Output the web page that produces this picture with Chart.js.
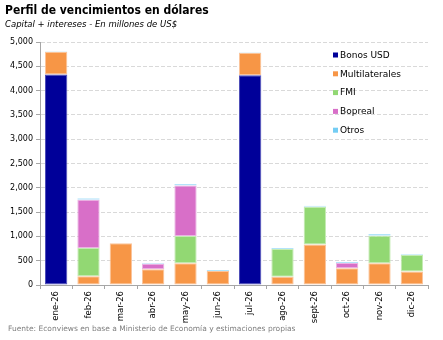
<!DOCTYPE html>
<html>
<head>
<meta charset="utf-8">
<script src="https://cdn.jsdelivr.net/npm/chart.js@4"></script>
<style>
  html, body { margin: 0; padding: 0; background: #fff; }
  #wrap { width: 443px; height: 340px; }
</style>
</head>
<body>
<div id="wrap"><canvas id="barChart" width="443" height="340"></canvas></div>
<script>
// DATA (millones de US$)
let meses = ['ene-26', 'feb-26', 'mar-26', 'abr-26', 'may-26', 'jun-26', 'jul-26', 'ago-26', 'sept-26', 'oct-26', 'nov-26', 'dic-26'];
let bonosUSD       = [4330, 0, 0, 0, 0, 0, 4315, 0, 0, 0, 0, 0];
let multilaterales = [470, 180, 860, 325, 445, 290, 465, 170, 835, 345, 445, 280];
let fmi            = [0, 580, 0, 0, 565, 0, 0, 570, 775, 0, 570, 335];
let bopreal        = [0, 995, 0, 110, 1035, 0, 0, 0, 0, 110, 0, 0];
let otros          = [10, 30, 0, 20, 35, 20, 10, 20, 20, 20, 35, 20];

let serieLabels = ['Bonos USD', 'Multilaterales', 'FMI', 'Bopreal', 'Otros'];
let serieData = [bonosUSD, multilaterales, fmi, bopreal, otros];
let serieColor = ['#000099', '#f79646', '#92d873', '#d86fc8', '#74cdf4'];
let serieBorde = ['#4d4db8', '#fbc49a', '#c4ebb3', '#eab3e2', '#b3e4fa'];

let fontFam = '"DejaVu Sans", Verdana, sans-serif';

// titulo, subtitulo, fuente y leyenda dibujados a mano
let textos = {
    id: 'textos',
    afterDraw(chart) {
        let ctx = chart.ctx;
        ctx.save();
        ctx.textBaseline = 'alphabetic';
        ctx.textAlign = 'left';
        ctx.fillStyle = '#000';
        ctx.font = 'bold 12px "DejaVu Sans Condensed", "DejaVu Sans", sans-serif';
        ctx.fontStretch = 'condensed';
        ctx.fillText('Perfil de vencimientos en dólares', 5, 14);
        ctx.fontStretch = 'normal';
        ctx.font = 'italic 8.5px ' + fontFam;
        ctx.fillText('Capital + intereses - En millones de US$', 5, 27);
        ctx.fillStyle = '#7f7f7f';
        ctx.font = '7.5px ' + fontFam;
        ctx.fillText('Fuente: Econviews en base a Ministerio de Economía y estimaciones propias', 8, 331);

        // leyenda
        ctx.font = '9px ' + fontFam;
        ctx.textBaseline = 'middle';
        for (let i = 0; i < serieLabels.length; i++) {
            let y = 55.5 + i * 18.8;
            ctx.fillStyle = serieColor[i];
            ctx.fillRect(333, y - 3, 5, 5);
            ctx.fillStyle = '#000';
            ctx.fillText(serieLabels[i], 340, y);
        }
        ctx.restore();
    }
};

let datasets = [];
for (let i = 0; i < serieLabels.length; i++) {
    datasets.push({
        label: serieLabels[i],
        data: serieData[i],
        backgroundColor: serieColor[i],
        borderColor: serieBorde[i],
        borderWidth: 1,
        borderSkipped: false,
        categoryPercentage: 1,
        barPercentage: 0.69
    });
}

let ctxBar = document.getElementById('barChart').getContext('2d');
let barChart = new Chart(ctxBar, {
    type: 'bar',
    data: { labels: meses, datasets: datasets },
    options: {
        responsive: false,
        animation: false,
        layout: { padding: { top: 42, right: 15, left: 0, bottom: 0 } },
        plugins: {
            legend: { display: false },
            tooltip: { enabled: false }
        },
        scales: {
            x: {
                stacked: true,
                afterFit: s => { s.height = 55; },
                grid: {
                    display: true,
                    drawOnChartArea: false,
                    offset: true,
                    tickLength: 4,
                    tickColor: '#a6a6a6'
                },
                border: { color: '#a6a6a6' },
                ticks: {
                    minRotation: 90,
                    maxRotation: 90,
                    padding: 2,
                    color: '#000',
                    font: { family: fontFam, size: 8.5 }
                }
            },
            y: {
                stacked: true,
                min: 0,
                max: 5000,
                afterFit: s => { s.width = 40; },
                grid: {
                    color: '#d9d9d9',
                    tickColor: '#a6a6a6',
                    tickLength: 4,
                    tickBorderDash: [],
                    lineWidth: 1
                },
                border: { color: '#a6a6a6', dash: [4, 2] },
                ticks: {
                    stepSize: 500,
                    padding: 3,
                    color: '#000',
                    font: { family: fontFam, size: 8 },
                    callback: v => v.toLocaleString('en-US')
                }
            }
        }
    },
    plugins: [textos]
});
</script>
</body>
</html>
